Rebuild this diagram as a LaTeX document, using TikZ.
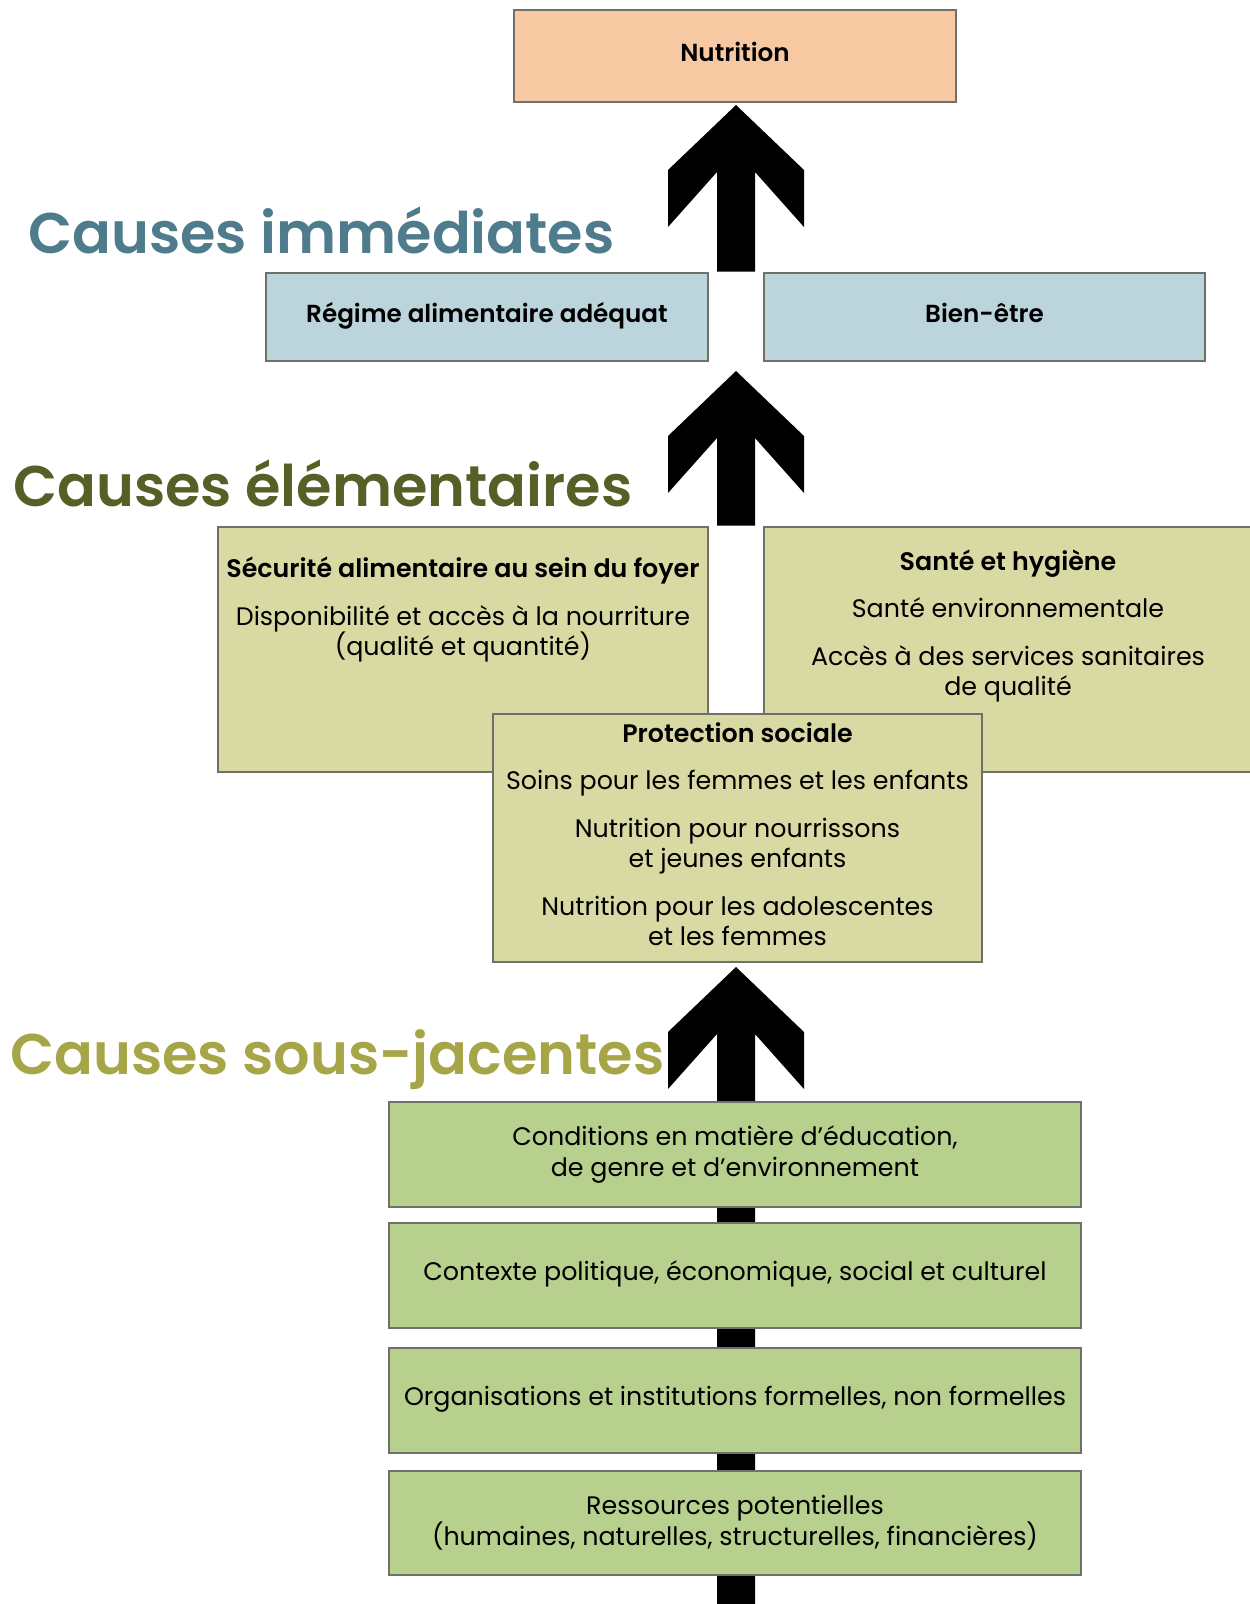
\documentclass[tikz,border=0pt]{standalone}
\usepackage{fontspec}
\setmainfont{Poppins}[BoldFont={Poppins SemiBold}]
\usetikzlibrary{positioning,calc,backgrounds}

\definecolor{peachfill}{RGB}{246,201,162}
\definecolor{bluefill}{RGB}{188,212,219}
\definecolor{khakifill}{RGB}{216,217,163}
\definecolor{greenfill}{RGB}{184,208,141}
\definecolor{boxline}{RGB}{112,112,104}
\definecolor{headblue}{RGB}{78,124,140}
\definecolor{headolive}{RGB}{86,96,38}
\definecolor{headyellow}{RGB}{166,166,72}

% black block arrow: #1 = tip, #2 = node where the shaft stops
\newcommand{\chevronup}[2]{%
  \fill[black] (#1) -- ++(-68,65) -- ++(0,57) -- ++(49,-55)
    -- ($(#1 |- #2)+(-19,0)$) -- ++(38,0) -- ($(#1)+(19,67)$)
    -- ++(49,55) -- ++(0,-57) -- cycle;}

\begin{document}
\begin{tikzpicture}[x=0.75pt,y=0.75pt,yscale=-1,xscale=1,
    cbox/.style={draw=boxline, line width=2pt, inner sep=0pt, align=center},
    oneline/.style={text height=0.8em, text depth=0.05em},
    titlefont/.style={font=\fontsize{18.5}{22}\selectfont\bfseries},
    bodytxt/.style={font=\fontsize{19}{23}\selectfont, align=center, inner sep=0pt},
    headtxt/.style={font=\fontsize{43}{50}\selectfont\bfseries, anchor=base west, inner sep=0pt}]
    \useasboundingbox (0,0) rectangle (1250,1604);

    %Shape: Rectangle
    \node [cbox, oneline, titlefont, fill=peachfill, minimum width=331.5pt, minimum height=69pt] (nutr) at (735,56) {Nutrition};
    %Shape: Rectangle
    \node [cbox, oneline, titlefont, fill=bluefill, minimum width=331.5pt, minimum height=66pt] (regime) at (487,317) {Régime alimentaire adéquat};
    %Shape: Rectangle
    \node [cbox, oneline, titlefont, fill=bluefill, minimum width=330.75pt, minimum height=66pt] (bien) at (984.5,317) {Bien-être};
    %Shape: Rectangle
    \node [cbox, fill=khakifill, minimum width=367.5pt, minimum height=183.75pt] (secu) at (463,649.5) {};
    %Shape: Rectangle
    \node [cbox, fill=khakifill, minimum width=366pt, minimum height=183.75pt] (sante) at (1008,649.5) {};
    %Shape: Rectangle
    \node [cbox, fill=khakifill, minimum width=366.75pt, minimum height=186pt] (prot) at (737.5,838) {};
    %Shape: Rectangle
    \node [cbox, bodytxt, fill=greenfill, minimum width=519pt, minimum height=78.75pt] (cond) at (735,1154.5) {Conditions en matière d’éducation,\\de genre et d’environnement};
    %Shape: Rectangle
    \node [cbox, bodytxt, oneline, fill=greenfill, minimum width=519pt, minimum height=78.75pt] (ctx) at (735,1275.5) {Contexte politique, économique, social et culturel};
    %Shape: Rectangle
    \node [cbox, bodytxt, oneline, fill=greenfill, minimum width=519pt, minimum height=78.75pt] (org) at (735,1400.5) {Organisations et institutions formelles, non formelles};
    %Shape: Rectangle
    \node [cbox, bodytxt, fill=greenfill, minimum width=519pt, minimum height=78pt] (res) at (735,1523) {Ressources potentielles\\(humaines, naturelles, structurelles, financières)};

    % Text Node (base = last line)
    \node [bodytxt, anchor=base] (secutxt) at ($(secu.north)+(0,130)$) {\textbf{Sécurité alimentaire au sein du foyer}\\[12.5pt]Disponibilité et accès à la nourriture\\(qualité et quantité)};
    % Text Node
    \node [bodytxt, anchor=base] (santetxt) at ($(sante.north)+(0,170)$) {\textbf{Santé et hygiène}\\[12.5pt]Santé environnementale\\[12.5pt]Accès à des services sanitaires\\de qualité};
    % Text Node
    \node [bodytxt, anchor=base] (prottxt) at ($(prot.north)+(0,233)$) {\textbf{Protection sociale}\\[12.5pt]Soins pour les femmes et les enfants\\[12.5pt]Nutrition pour nourrissons\\et jeunes enfants\\[12.5pt]Nutrition pour les adolescentes\\et les femmes};

    % Text Node
    \node [headtxt, text=headblue] (himm) at (28,253) {Causes immédiates};
    % Text Node
    \node [headtxt, text=headolive] (helem) at (13,506) {Causes élémentaires};
    % Text Node
    \node [headtxt, text=headyellow] (hsous) at (10,1074) {Causes sous-jacentes};

    \coordinate (tipa) at (736,105);
    \coordinate (tipb) at (736,371);
    \coordinate (tipc) at (736,967);
    \coordinate (floor) at (736,1604);

    \begin{scope}[on background layer]
    \chevronup{tipa}{regime.north}
    \chevronup{tipb}{secu.north}
    \chevronup{tipc}{floor}
    \end{scope}

\end{tikzpicture}
\end{document}
